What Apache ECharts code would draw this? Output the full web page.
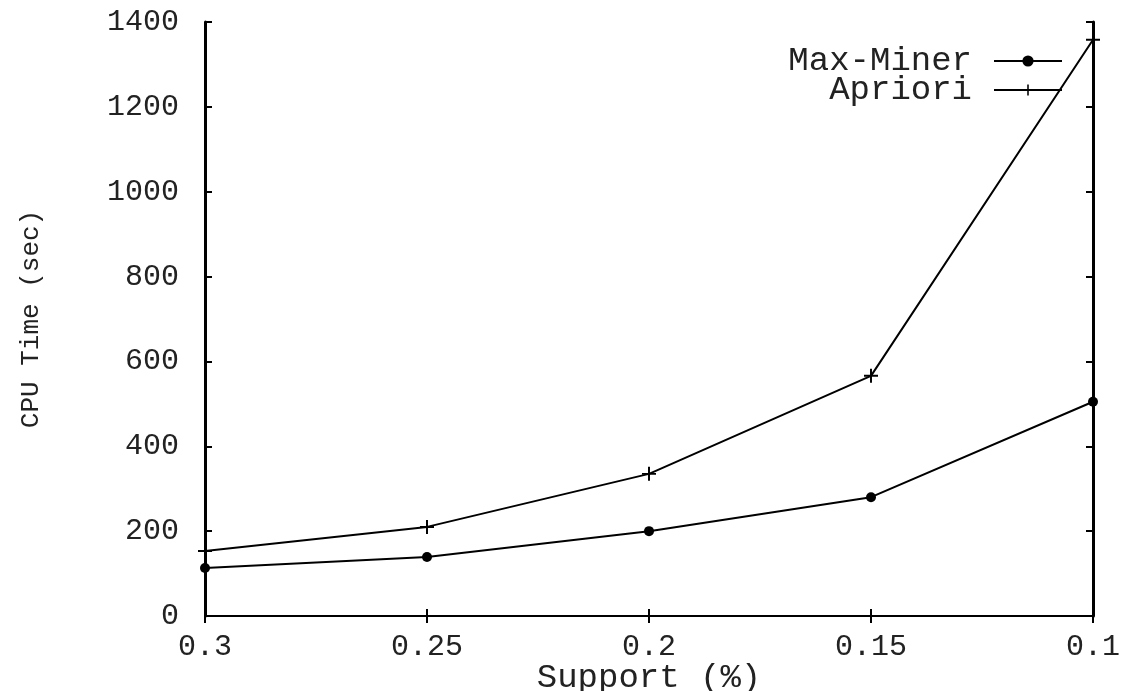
<!DOCTYPE html>
<html>
<head>
<meta charset="utf-8">
<script src="https://cdn.jsdelivr.net/npm/echarts@6/dist/echarts.min.js"></script>
<style>
  html, body { margin: 0; padding: 0; background: #fff; }
  #chart { width: 1124px; height: 691px; }
</style>
</head>
<body>
<div id="chart"></div>
<script>
// support thresholds (%) and CPU times
const support = [0.3, 0.25, 0.2, 0.15, 0.1]
const maxMiner = [113, 139, 200, 280, 505]
const apriori = [153, 210, 335, 566, 1358]
const yTicks = [0, 200, 400, 600, 800, 1000, 1200, 1400]

const font = 'Liberation Mono, Courier New, monospace'
const textcolor = '#222'
const plus = 'path://M4.3,0h1.4v4.3h4.3v1.4h-4.3v4.3h-1.4v-4.3h-4.3v-1.4h4.3z'

let myChart = echarts.init(document.getElementById('chart'))
myChart.setOption({
  animation: false,
  backgroundColor: '#fff',
  grid: { left: 205, right: 31, top: 22, bottom: 75, outerBoundsMode: 'none', containLabel: false },
  legend: {
    orient: 'vertical',
    right: 61,
    top: 44,
    padding: 0,
    align: 'right',
    itemWidth: 68,
    itemHeight: 14,
    itemGap: -5,
    textStyle: {
      fontFamily: font, fontSize: 34, color: textcolor,
      lineHeight: 22, padding: [0, 17, 0, 0],
    },
    data: ['Max-Miner', 'Apriori'],
  },
  xAxis: [
    {
      type: 'value',
      inverse: true,
      min: 0.1,
      max: 0.3,
      interval: 0.05,
      name: 'Support (%)',
      nameLocation: 'middle',
      nameGap: 45,
      nameMoveOverlap: false,
      nameTextStyle: { fontFamily: font, fontSize: 34, color: textcolor },
      axisLine: { lineStyle: { color: '#000', width: 2 } },
      axisTick: { inside: true, length: 7, lineStyle: { color: '#000', width: 2 } },
      axisLabel: {
        fontFamily: font, fontSize: 30, color: textcolor, margin: 16,
        formatter: (v) => String(+v.toFixed(2)),
      },
      splitLine: { show: false },
    },
    {
      type: 'value',
      position: 'top',
      inverse: true,
      min: 0.1,
      max: 0.3,
      interval: 0.05,
      axisLine: { lineStyle: { color: '#000', width: 2 } },
      axisTick: { inside: true, length: 7, lineStyle: { color: '#000', width: 2 } },
      axisLabel: { show: false },
      splitLine: { show: false },
    },
  ],
  yAxis: [
    {
      type: 'value',
      min: yTicks[0],
      max: yTicks[yTicks.length - 1],
      interval: 200,
      name: 'CPU Time (sec)',
      nameLocation: 'middle',
      nameGap: 161,
      nameMoveOverlap: false,
      nameRotate: 90,
      nameTextStyle: { fontFamily: font, fontSize: 26, color: textcolor },
      axisLine: { show: true, lineStyle: { color: '#000', width: 3 } },
      axisTick: { inside: true, length: 7, lineStyle: { color: '#000', width: 2 } },
      axisLabel: {
        fontFamily: font, fontSize: 30, color: textcolor, margin: 26,
        formatter: (v) => String(v),
      },
      splitLine: { show: false },
    },
    {
      type: 'value',
      position: 'right',
      min: yTicks[0],
      max: yTicks[yTicks.length - 1],
      interval: 200,
      axisLine: { show: true, lineStyle: { color: '#000', width: 3 } },
      axisTick: { show: true, inside: true, length: 7, lineStyle: { color: '#000', width: 2 } },
      axisLabel: { show: false },
      splitLine: { show: false },
    },
  ],
  series: [
    {
      name: 'Max-Miner',
      type: 'line',
      data: support.map((s, i) => [s, maxMiner[i]]),
      symbol: 'circle',
      symbolSize: 10,
      itemStyle: { color: '#000' },
      lineStyle: { color: '#000', width: 2 },
    },
    {
      name: 'Apriori',
      type: 'line',
      data: support.map((s, i) => [s, apriori[i]]),
      symbol: plus,
      symbolSize: 14,
      itemStyle: { color: '#000' },
      lineStyle: { color: '#000', width: 2 },
    },
  ],
})
</script>
</body>
</html>
